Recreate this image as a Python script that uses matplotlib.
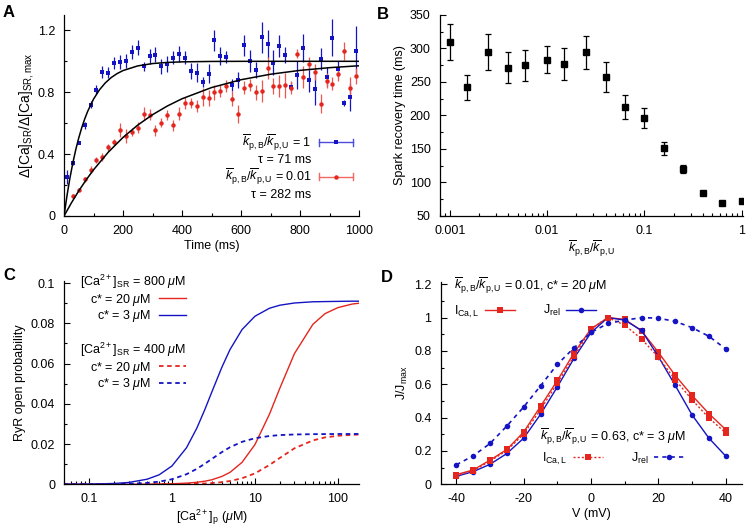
import matplotlib
matplotlib.use("Agg")
import matplotlib.pyplot as plt
from matplotlib.lines import Line2D
from matplotlib.legend_handler import HandlerBase
from matplotlib.ticker import MultipleLocator, FixedLocator, FixedFormatter, LogLocator, NullFormatter

# ---- panel A: SR refilling ----
t_blue = [10, 30, 50, 70, 90, 110, 130, 150, 170, 190, 210, 230, 250, 270, 290, 310, 330,
	350, 370, 390, 410, 430, 450, 470, 490, 510, 530, 550, 570, 590, 610, 630, 650, 670,
	690, 710, 730, 750, 770, 790, 810, 830, 850, 870, 890, 910, 930, 950, 970, 990]
v_blue = [0.255, 0.344, 0.475, 0.585, 0.72, 0.817, 0.931, 0.927, 0.989, 0.996, 1.0, 1.062,
	1.088, 0.968, 1.032, 1.043, 0.968, 0.983, 1.024, 1.047, 1.024, 0.938, 0.927, 0.867, 0.92,
	1.135, 1.034, 1.028, 0.845, 0.88, 1.103, 1.002, 0.945, 1.155, 1.11, 0.99, 1.10, 1.04,
	0.837, 0.91, 1.088, 0.88, 0.82, 1.017, 0.90, 1.153, 0.95, 0.731, 0.77, 1.065]
e_blue = [0.045, 0.012, 0.012, 0.02, 0.025, 0.03, 0.04, 0.035, 0.04, 0.045, 0.045, 0.045,
	0.05, 0.03, 0.05, 0.05, 0.05, 0.05, 0.04, 0.05, 0.04, 0.05, 0.06, 0.03, 0.06,
	0.07, 0.06, 0.04, 0.04, 0.05, 0.07, 0.07, 0.05, 0.1, 0.09, 0.08, 0.07, 0.05,
	0.03, 0.09, 0.09, 0.08, 0.1, 0.07, 0.06, 0.12, 0.05, 0.02, 0.09, 0.16]

t_red = [30, 50, 70, 90, 110, 130, 150, 170, 190, 210, 230, 250, 270, 290, 310, 330, 350,
	370, 390, 410, 430, 450, 470, 490, 510, 530, 550, 570, 590, 610, 630, 650, 670, 690,
	710, 730, 750, 770, 790, 810, 830, 850, 870, 890, 910, 930, 950, 970, 990]
v_red = [0.131, 0.17, 0.237, 0.30, 0.363, 0.383, 0.443, 0.48, 0.555, 0.518, 0.544, 0.572,
	0.662, 0.656, 0.555, 0.604, 0.652, 0.587, 0.662, 0.731, 0.731, 0.71, 0.77, 0.763, 0.80,
	0.81, 0.839, 0.759, 0.658, 0.83, 0.845, 0.80, 0.81, 0.955, 0.84, 0.84, 0.845, 0.83,
	1.05, 0.90, 0.985, 0.93, 0.727, 0.875, 0.856, 0.92, 1.066, 0.828, 0.905]
e_red = [0.01, 0.01, 0.015, 0.02, 0.02, 0.025, 0.02, 0.02, 0.045, 0.045, 0.025, 0.035,
	0.04, 0.035, 0.035, 0.03, 0.03, 0.035, 0.04, 0.04, 0.035, 0.04, 0.06, 0.05, 0.05,
	0.04, 0.04, 0.05, 0.06, 0.04, 0.04, 0.05, 0.07, 0.07, 0.05, 0.07, 0.08, 0.04,
	0.03, 0.07, 0.04, 0.05, 0.06, 0.05, 0.04, 0.05, 0.06, 0.07, 0.05]

# fitted curves
fit_t_blue = [0, 10, 20, 30, 40, 50, 60, 70, 80, 100, 120, 140, 160, 180, 200, 250, 300,
	350, 400, 500, 600, 800, 1000]
fit_v_blue = [0, 0.131, 0.2455, 0.3446, 0.4307, 0.5055, 0.5704, 0.6269, 0.676, 0.7555,
	0.8155, 0.8608, 0.895, 0.9207, 0.9402, 0.9704, 0.9854, 0.9928, 0.9964, 0.9991, 0.9998,
	1.0, 1.0]
fit_t_red = [0, 25, 50, 75, 100, 150, 200, 250, 300, 350, 400, 500, 600, 700, 800, 900, 1000]
fit_v_red = [0, 0.0849, 0.1625, 0.2335, 0.2986, 0.4125, 0.508, 0.5879, 0.6549, 0.7109,
	0.7579, 0.8302, 0.8809, 0.9165, 0.9414, 0.9589, 0.9712]

# ---- panel B: spark recovery time ----
k_ratio = [0.001, 0.0015, 0.0025, 0.004, 0.006, 0.01, 0.015, 0.025, 0.04, 0.063, 0.1,
	0.16, 0.25, 0.4, 0.63, 1.0]
recovery = [310, 242, 295, 271, 275, 283, 277, 294, 257, 212, 196, 151, 120, 85, 70, 72]
recovery_err = [27, 19, 27, 23, 23, 20, 24, 24, 22, 18, 15, 9.5, 6.5, 2, 2, 2]

# ---- panel C: RyR open probability ----
ca_p = [0.05, 0.1, 0.2, 0.3, 0.5, 0.7, 1, 1.5, 2, 2.5, 3, 4, 5, 7, 10, 15, 20, 30, 50, 70,
	100, 150, 200]
po_800_c20 = [0, 0, 0.00001, 0.00002, 0.00006, 0.00012, 0.00025, 0.00056, 0.001, 0.00155,
	0.0022, 0.0039, 0.0059, 0.0109, 0.0197, 0.0349, 0.0478, 0.065, 0.0795, 0.0848, 0.0878,
	0.0896, 0.0902]
po_800_c3 = [0.00003, 0.0001, 0.0004, 0.0009, 0.0025, 0.0047, 0.0091, 0.0182, 0.028, 0.0373,
	0.0455, 0.0582, 0.0669, 0.0769, 0.0835, 0.0875, 0.089, 0.0901, 0.0907, 0.0908, 0.0909,
	0.091, 0.091]
po_400_c20 = [0, 0, 0, 0, 0.00002, 0.00003, 0.00007, 0.00015, 0.00027, 0.0004, 0.0006,
	0.00106, 0.0016, 0.003, 0.0054, 0.0096, 0.0131, 0.0179, 0.0218, 0.0233, 0.0241, 0.0246,
	0.0248]
po_400_c3 = [0.00001, 0.00003, 0.00011, 0.00025, 0.00068, 0.0013, 0.0025, 0.005, 0.0077,
	0.01025, 0.0125, 0.016, 0.0184, 0.0211, 0.0229, 0.024, 0.02445, 0.02475, 0.0249,
	0.02495, 0.025, 0.025, 0.025]

# ---- panel D: voltage dependence ----
volt = [-40, -35, -30, -25, -20, -15, -10, -5, 0, 5, 10, 15, 20, 25, 30, 35, 40]
ica_001 = [0.058, 0.086, 0.145, 0.209, 0.314, 0.468, 0.623, 0.79, 0.933, 1.0, 0.99, 0.92,
	0.792, 0.653, 0.533, 0.424, 0.328]
jrel_001 = [0.048, 0.076, 0.12, 0.185, 0.277, 0.42, 0.585, 0.758, 0.911, 1.0, 0.985, 0.923,
	0.766, 0.593, 0.416, 0.277, 0.169]
ica_063 = [0.052, 0.082, 0.139, 0.203, 0.302, 0.448, 0.607, 0.77, 0.933, 1.0, 0.955, 0.872,
	0.762, 0.627, 0.507, 0.398, 0.308]
jrel_063 = [0.117, 0.171, 0.245, 0.35, 0.464, 0.591, 0.72, 0.82, 0.911, 0.965, 0.985, 1.0,
	0.997, 0.977, 0.94, 0.888, 0.812]

BLUE = "#1414c4"
RED = "#e4261e"
RED_LIGHT = "#f0544c"
FS = 9
KBU = r"$\overline{k}_{\mathrm{p,B}}/\overline{k}_{\mathrm{p,U}}$"

plt.rcParams["font.family"] = ["Liberation Sans", "DejaVu Sans"]
plt.rcParams["font.size"] = FS
plt.rcParams["mathtext.fontset"] = "custom"
plt.rcParams["mathtext.rm"] = "Liberation Sans"
plt.rcParams["mathtext.it"] = "Liberation Sans:italic"
plt.rcParams["mathtext.bf"] = "Liberation Sans:bold"
plt.rcParams["axes.linewidth"] = 0.9
plt.rcParams["axes.unicode_minus"] = False


class ErrKey(HandlerBase):
	# gnuplot style key: horizontal bar with end caps and a point in the middle
	def create_artists(self, legend, orig, xdescent, ydescent, width, height, fontsize, trans):
		y = height / 2 - ydescent + 0.6 * fontsize
		x0 = -xdescent
		x1 = x0 + width
		c = 0.28 * fontsize
		col = orig.get_color()
		bar = Line2D([x0, x1], [y, y], color=orig.get_markeredgecolor(), lw=1)
		cap0 = Line2D([x0, x0], [y - c, y + c], color=orig.get_markeredgecolor(), lw=1)
		cap1 = Line2D([x1, x1], [y - c, y + c], color=orig.get_markeredgecolor(), lw=1)
		mark = Line2D([(x0 + x1) / 2], [y], ls="", marker=orig.get_marker(),
			ms=orig.get_markersize(), color=col, mew=0)
		arts = [bar, cap0, cap1, mark]
		for a in arts:
			a.set_transform(trans)
		return arts


def style_axes(ax):
	ax.spines["top"].set_visible(False)
	ax.spines["right"].set_visible(False)
	ax.tick_params(which="both", direction="in", top=False, right=False, width=0.8)
	ax.tick_params(which="major", length=4, pad=6.5)
	ax.tick_params(which="minor", length=2)


def draw_a(ax):
	ax.errorbar(t_blue, v_blue, yerr=e_blue, fmt="s", ms=3.4, color=BLUE, ecolor=BLUE,
		elinewidth=0.9, capsize=2, capthick=0.9, mew=0)
	ax.errorbar(t_red, v_red, yerr=e_red, fmt="o", ms=3.2, color=RED, ecolor=RED_LIGHT,
		elinewidth=0.9, capsize=2, capthick=0.9, mew=0)
	ax.plot(fit_t_blue, fit_v_blue, color="k", lw=1.1, zorder=4)
	ax.plot(fit_t_red, fit_v_red, color="k", lw=1.1, zorder=4)
	ax.set_xlim(0, 1000)
	ax.set_ylim(0, 1.3)
	ax.xaxis.set_major_locator(MultipleLocator(200))
	ax.xaxis.set_minor_locator(MultipleLocator(100))
	ax.yaxis.set_major_locator(FixedLocator([0, 0.4, 0.8, 1.2]))
	ax.yaxis.set_major_formatter(FixedFormatter(["0", "0.4", "0.8", "1.2"]))
	ax.yaxis.set_minor_locator(MultipleLocator(0.2))
	ax.set_xlabel("Time (ms)", labelpad=2)
	ax.set_ylabel(r"$\Delta$[Ca]$_{\mathrm{SR}}$/$\Delta$[Ca]$_{\mathrm{SR,max}}$",
		fontsize=10, labelpad=1)
	h1 = Line2D([], [], color=BLUE, marker="s", ms=3.4, mec="#4c4ce0")
	h2 = Line2D([], [], color=RED, marker="o", ms=3.2, mec="#f06a62")
	leg = ax.legend([h1, h2], [KBU + " = 1\nτ = 71 ms", KBU + " = 0.01\nτ = 282 ms"],
		handler_map={Line2D: ErrKey()}, markerfirst=False, frameon=False,
		loc="lower right", bbox_to_anchor=(0.98, 0.075), borderaxespad=0, borderpad=0,
		handlelength=2.7, handletextpad=0.65, labelspacing=0.05)
	for t in leg.get_texts():
		t.set_multialignment("right")


def draw_b(ax):
	ax.errorbar(k_ratio, recovery, yerr=recovery_err, fmt="s", ms=4.3, color="k",
		elinewidth=0.9, capsize=2, capthick=0.9)
	ax.set_xscale("log")
	ax.set_xlim(0.00079, 1.03)
	ax.set_ylim(50, 350)
	ax.xaxis.set_major_locator(FixedLocator([0.001, 0.01, 0.1, 1]))
	ax.xaxis.set_major_formatter(FixedFormatter(["0.001", "0.01", "0.1", "1"]))
	ax.xaxis.set_minor_locator(LogLocator(base=10, subs=range(2, 10)))
	ax.xaxis.set_minor_formatter(NullFormatter())
	ax.yaxis.set_major_locator(MultipleLocator(50))
	ax.yaxis.set_minor_locator(MultipleLocator(25))
	ax.set_xlabel(KBU, labelpad=1)
	ax.set_ylabel("Spark recovery time (ms)", labelpad=3)


def draw_c(ax):
	ax.plot(ca_p, po_800_c20, color=RED, lw=1)
	ax.plot(ca_p, po_800_c3, color=BLUE, lw=1)
	ax.plot(ca_p, po_400_c20, color=RED, lw=1.3, dashes=(2.5, 2))
	ax.plot(ca_p, po_400_c3, color=BLUE, lw=1.3, dashes=(2.5, 2))
	ax.set_xscale("log")
	ax.set_xlim(0.05, 180)
	ax.set_ylim(0, 0.101)
	ax.xaxis.set_major_locator(FixedLocator([0.1, 1, 10, 100]))
	ax.xaxis.set_major_formatter(FixedFormatter(["0.1", "1", "10", "100"]))
	ax.xaxis.set_minor_locator(LogLocator(base=10, subs=range(2, 10)))
	ax.xaxis.set_minor_formatter(NullFormatter())
	ax.yaxis.set_major_locator(FixedLocator([0, 0.02, 0.04, 0.06, 0.08, 0.1]))
	ax.yaxis.set_major_formatter(FixedFormatter(["0", "0.02", "0.04", "0.06", "0.08", "0.1"]))
	ax.yaxis.set_minor_locator(MultipleLocator(0.01))
	ax.set_xlabel(r"[Ca$^{2+}$]$_{\mathrm{p}}$ ($\mu$M)", labelpad=2)
	ax.set_ylabel("RyR open probability", labelpad=3)
	labels = ["c* = 20 $\\mu$M", "c* = 3 $\\mu$M"]
	hs = [Line2D([], [], color=RED, lw=1), Line2D([], [], color=BLUE, lw=1)]
	leg1 = ax.legend(hs, labels, title=r"[Ca$^{2+}$]$_{\mathrm{SR}}$ = 800 $\mu$M",
		title_fontsize=FS, alignment="right", markerfirst=False, frameon=False,
		loc="upper left", bbox_to_anchor=(0.054, 1.04), borderaxespad=0, borderpad=0,
		handlelength=2.1, handletextpad=0.65, labelspacing=0.05)
	ax.add_artist(leg1)
	hs = [Line2D([], [], color=RED, lw=1.3, dashes=(2.5, 2)),
		Line2D([], [], color=BLUE, lw=1.3, dashes=(2.5, 2))]
	ax.legend(hs, labels, title=r"[Ca$^{2+}$]$_{\mathrm{SR}}$ = 400 $\mu$M",
		title_fontsize=FS, alignment="right", markerfirst=False, frameon=False,
		loc="upper left", bbox_to_anchor=(0.054, 0.705), borderaxespad=0, borderpad=0,
		handlelength=2.1, handletextpad=0.65, labelspacing=0.05)


def draw_d(ax):
	ax.plot(volt, ica_001, "-s", color=RED, ms=4.6, lw=1, mew=0, zorder=3)
	ax.plot(volt, jrel_001, "-o", color=BLUE, ms=4, lw=1, mew=0, zorder=3)
	ax.plot(volt, ica_063, "s", ls=(0, (1.5, 1.5)), color=RED, ms=4.6, lw=1, mew=0, zorder=3)
	ax.plot(volt, jrel_063, "o", ls=(0, (2.5, 2.5)), color=BLUE, ms=4, lw=1.2, mew=0, zorder=3)
	ax.set_xlim(-44.7, 44.7)
	ax.set_ylim(0, 1.215)
	ax.xaxis.set_major_locator(MultipleLocator(20))
	ax.xaxis.set_minor_locator(MultipleLocator(10))
	ax.yaxis.set_major_locator(FixedLocator([0, 0.2, 0.4, 0.6, 0.8, 1.0, 1.2]))
	ax.yaxis.set_major_formatter(FixedFormatter(["0", "0.2", "0.4", "0.6", "0.8", "1", "1.2"]))
	ax.yaxis.set_minor_locator(MultipleLocator(0.1))
	ax.set_xlabel("V (mV)", labelpad=2)
	ax.set_ylabel(r"J/J$_{\mathrm{max}}$", labelpad=3)
	labels = [r"I$_{\mathrm{Ca,L}}$", r"J$_{\mathrm{rel}}$"]
	hs = [Line2D([], [], color=RED, marker="s", ms=4.6, lw=1, mew=0),
		Line2D([], [], color=BLUE, marker="o", ms=4, lw=1, mew=0)]
	leg1 = ax.legend(hs, labels, title=KBU + r" = 0.01, c* = 20 $\mu$M", title_fontsize=FS,
		alignment="left", ncol=2, markerfirst=False, frameon=False, numpoints=1,
		loc="upper left", bbox_to_anchor=(0.045, 1.03), borderaxespad=0, borderpad=0,
		handlelength=2.4, handletextpad=0.45, columnspacing=2.2, labelspacing=0.6)
	ax.add_artist(leg1)
	hs = [Line2D([], [], color=RED, marker="s", ms=4.6, lw=1, ls=(0, (1.5, 1.5)), mew=0),
		Line2D([], [], color=BLUE, marker="o", ms=4, lw=1.2, ls=(0, (2.5, 2.5)), mew=0)]
	ax.legend(hs, labels, title=KBU + r" = 0.63, c* = 3 $\mu$M", title_fontsize=FS,
		alignment="center", ncol=2, markerfirst=False, frameon=False, numpoints=1,
		loc="upper left", bbox_to_anchor=(0.33, 0.285), borderaxespad=0, borderpad=0,
		handlelength=2.4, handletextpad=0.45, columnspacing=2.2, labelspacing=0.3)


def main():
	fig = plt.figure(figsize=(7.48, 5.32), dpi=100)
	ax_a = fig.add_axes([0.0856, 0.594, 0.3944, 0.378])
	ax_b = fig.add_axes([0.588, 0.594, 0.405, 0.378])
	ax_c = fig.add_axes([0.0856, 0.0897, 0.3944, 0.382])
	ax_d = fig.add_axes([0.589, 0.0897, 0.4024, 0.3806])
	for ax in (ax_a, ax_b, ax_c, ax_d):
		style_axes(ax)
	draw_a(ax_a)
	draw_b(ax_b)
	draw_c(ax_c)
	draw_d(ax_d)

	for x, y, s in [(0.004, 0.99, "A"), (0.504, 0.986, "B"), (0.004, 0.497, "C"), (0.509, 0.493, "D")]:
		fig.text(x, y, s, fontsize=12, fontweight="bold", va="top", ha="left")

	fig.savefig("out.png", dpi=100)

main()
